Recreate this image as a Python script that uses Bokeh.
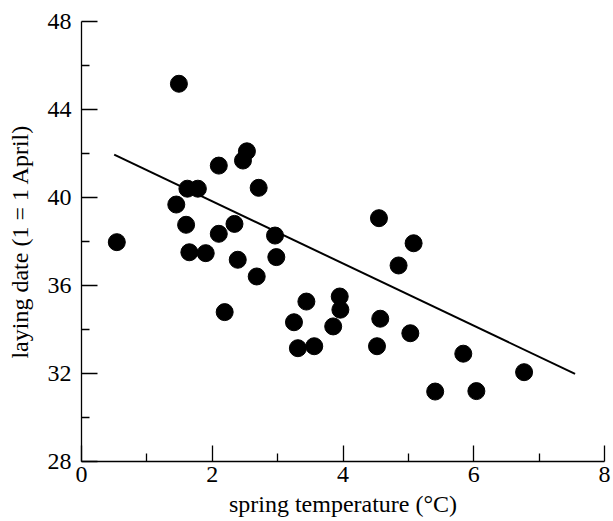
from bokeh.plotting import figure
from bokeh.models import FixedTicker, Range1d, ColumnDataSource
from bokeh.embed import file_html
from bokeh.resources import INLINE

# data
temp = [0.54, 1.49, 2.53, 2.47, 2.10, 1.62, 1.78, 2.71, 1.45, 1.60, 2.10, 2.34,
        2.96, 1.65, 1.90, 2.39, 2.98, 2.68, 2.19, 3.44, 4.55, 5.08, 4.85, 3.95,
        3.96, 3.25, 3.85, 4.57, 5.03, 3.31, 3.56, 4.52, 5.84, 6.77, 5.41, 6.04]
laying = [37.97, 45.17, 42.10, 41.68, 41.45, 40.40, 40.40, 40.44, 39.68, 38.76, 38.35, 38.80,
          38.27, 37.51, 37.47, 37.17, 37.29, 36.41, 34.79, 35.27, 39.06, 37.92, 36.91, 35.50,
          34.90, 34.33, 34.14, 34.49, 33.83, 33.15, 33.24, 33.24, 32.90, 32.06, 31.18, 31.20]
fit_x = [0.5, 7.55]
fit_y = [41.95, 31.98]

x_ticks = [0, 2, 4, 6, 8]
x_minor = [1, 3, 5, 7]
y_ticks = [28, 32, 36, 40, 44, 48]
y_minor = [30, 34, 38, 42, 46]

FONT = "Liberation Serif"

p = figure(output_backend="svg", toolbar_location=None,
           frame_width=523, frame_height=440,
           min_border_left=81, min_border_top=21, min_border_right=9, min_border_bottom=60,
           x_range=Range1d(0, 8), y_range=Range1d(28, 48))
p.outline_line_color = None
p.grid.visible = False
p.background_fill_color = "white"
p.border_fill_color = "white"

p.line(fit_x, fit_y, line_color="black", line_width=2)
src = ColumnDataSource(dict(x=temp, y=laying))
p.scatter("x", "y", source=src, size=17, fill_color="black", line_color="black")

for ax, ticks, minor, label in [(p.xaxis[0], x_ticks, x_minor, "spring temperature (°C)"),
                                 (p.yaxis[0], y_ticks, y_minor, "laying date (1 = 1 April)")]:
    ax.ticker = FixedTicker(ticks=ticks, minor_ticks=minor)
    ax.axis_label = label
    ax.axis_line_color = "black"
    ax.axis_line_width = 1.3
    ax.major_tick_in = 16
    ax.major_tick_out = 0
    ax.minor_tick_in = 8
    ax.minor_tick_out = 0
    ax.major_tick_line_color = "black"
    ax.minor_tick_line_color = "black"
    ax.major_tick_line_width = 1.3
    ax.minor_tick_line_width = 1.3
    ax.major_label_text_font = FONT
    ax.major_label_text_font_size = "24px"
    ax.major_label_text_color = "black"
    ax.axis_label_text_font = FONT
    ax.axis_label_text_font_size = "24px"
    ax.axis_label_text_font_style = "normal"
    ax.axis_label_text_color = "black"

p.xaxis.major_label_standoff = 5
p.xaxis.axis_label_standoff = 6
p.yaxis.major_label_standoff = 10
p.yaxis.axis_label_standoff = 12

open("out.html", "w").write(file_html(p, INLINE))
